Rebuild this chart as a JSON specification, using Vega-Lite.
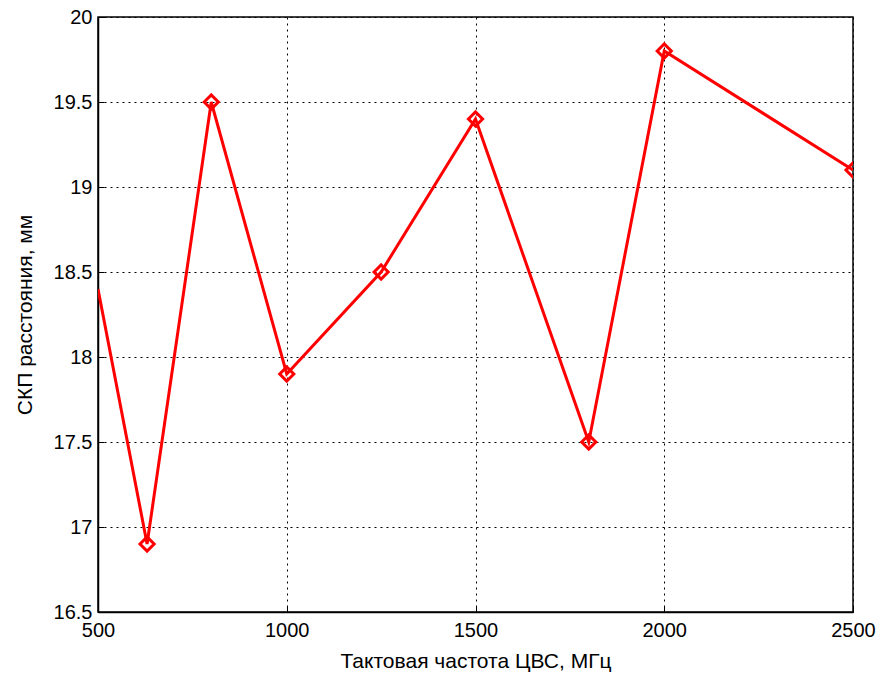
{
  "$schema": "https://vega.github.io/schema/vega-lite/v6.json",
  "width": 755,
  "height": 595,
  "autosize": {"type": "none"},
  "padding": {"left": 98, "top": 17, "right": 27, "bottom": 61},
  "background": "white",
  "config": {
    "view": {"stroke": "black", "strokeWidth": 1.5},
    "font": "Liberation Sans",
    "axis": {
      "labelFont": "Liberation Sans",
      "titleFont": "Liberation Sans",
      "labelFontSize": 20,
      "titleFontSize": 21,
      "titleFontWeight": "normal",
      "labelColor": "black",
      "titleColor": "black",
      "domainColor": "black",
      "domainWidth": 1.5,
      "tickColor": "black",
      "tickWidth": 1,
      "gridColor": "black",
      "gridDash": [2, 4],
      "gridOpacity": 1,
      "gridWidth": 1
    }
  },
  "data": {
    "values": [
      {"f": 500, "s": 18.4},
      {"f": 630, "s": 16.9},
      {"f": 800, "s": 19.5},
      {"f": 1000, "s": 17.9},
      {"f": 1250, "s": 18.5},
      {"f": 1500, "s": 19.4},
      {"f": 1800, "s": 17.5},
      {"f": 2000, "s": 19.8},
      {"f": 2500, "s": 19.1}
    ]
  },
  "encoding": {
    "x": {
      "field": "f",
      "type": "quantitative",
      "scale": {"domain": [500, 2500], "nice": false, "zero": false},
      "axis": {
        "values": [500, 1000, 1500, 2000, 2500],
        "format": "d",
        "title": "Тактовая частота ЦВС, МГц",
        "tickSize": -6,
        "labelPadding": 14,
        "titlePadding": 10,
        "grid": true,
        "labelFlush": false
      }
    },
    "y": {
      "field": "s",
      "type": "quantitative",
      "scale": {"domain": [16.5, 20], "nice": false, "zero": false},
      "axis": {
        "values": [16.5, 17, 17.5, 18, 18.5, 19, 19.5, 20],
        "format": "~g",
        "title": "СКП расстояния, мм",
        "tickSize": -6,
        "labelPadding": 12,
        "titlePadding": 18,
        "grid": true,
        "labelFlush": false
      }
    }
  },
  "layer": [
    {
      "mark": {"type": "line", "color": "#ff0000", "strokeWidth": 3, "clip": true}
    },
    {
      "transform": [{"filter": "datum.f > 500"}],
      "mark": {"type": "point", "shape": "diamond", "filled": false, "color": "#ff0000", "strokeWidth": 3, "size": 200, "opacity": 1, "clip": true}
    }
  ]
}
